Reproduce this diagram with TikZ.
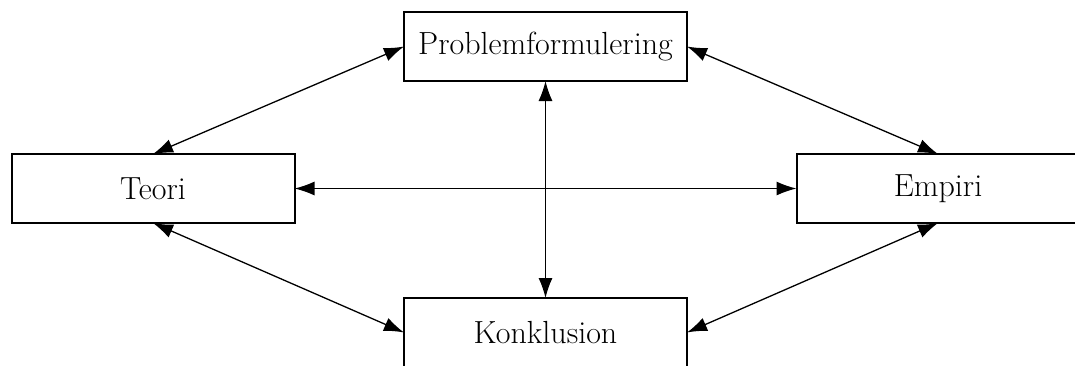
\documentclass[tikz,border=0pt]{standalone}
\usetikzlibrary{arrows.meta}
\begin{document}
\begin{tikzpicture}[x=1pt,y=-1pt,
  stage/.style={draw, line width=2pt, minimum width=283pt, minimum height=69pt,
    inner sep=0pt, outer sep=0pt, font=\fontsize{32}{38}\selectfont},
  link/.style={line width=1.3pt, {Latex[length=20pt,width=14pt]}-{Latex[length=20pt,width=14pt]}}]
  \useasboundingbox (0,0) rectangle (1075,365);
  \node[stage] (prob) at (545.5,46.5) {Problemformulering};
  \node[stage] (teori) at (153,188.5) {Teori};
  \node[stage] (empiri) at (938,188.5) {Empiri};
  \node[stage] (konk) at (545.5,332.5) {Konklusion};
  \draw[link] (prob.west) -- (teori.north);
  \draw[link] (prob.east) -- (empiri.north);
  \draw[link] (teori.south) -- (konk.west);
  \draw[link] (empiri.south) -- (konk.east);
  \draw[link] (teori.east) -- (empiri.west);
  \draw[link] (prob.south) -- (konk.north);
\end{tikzpicture}
\end{document}
